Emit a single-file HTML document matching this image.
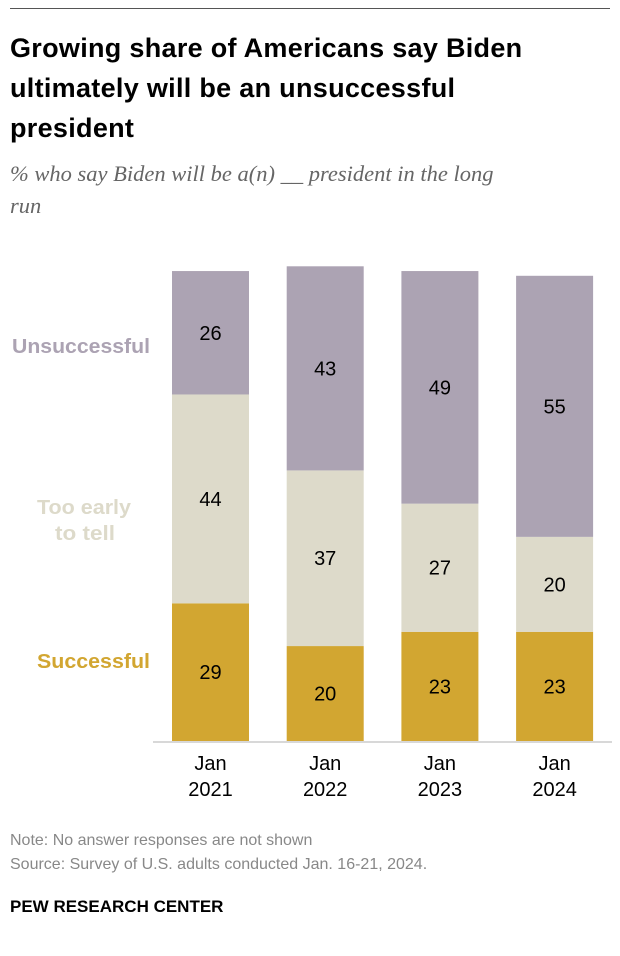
<!DOCTYPE html>
<html><head><meta charset="utf-8"><style>
body{margin:0;background:#fff;width:620px;height:956px;position:relative;font-family:"Liberation Sans",sans-serif;overflow:hidden}
.t{position:absolute;left:10px;top:28px;font-size:27px;font-weight:bold;line-height:40px;color:#000;width:610px;letter-spacing:0.3px}
.s{position:absolute;left:10px;top:158px;font-size:22.5px;font-style:italic;font-family:"Liberation Serif",serif;color:#666;line-height:32px;width:600px}
.n{position:absolute;left:10px;font-size:16px;color:#888}
</style></head><body>
<div style="position:absolute;left:10px;right:10px;top:8px;border-top:1px solid #555"></div>
<div class="t">Growing share of Americans say Biden<br>ultimately will be an unsuccessful<br>president</div>
<div class="s">% who say Biden will be a(n) __ president in the long<br>run</div>
<svg id="c" width="620" height="956" style="position:absolute;left:0;top:0"></svg>
<div class="n" style="top:832px">Note: No answer responses are not shown</div>
<div class="n" style="top:856px">Source: Survey of U.S. adults conducted Jan. 16-21, 2024.</div>
<div style="position:absolute;left:10px;top:897px;font-size:17px;font-weight:bold;color:#000">PEW RESEARCH CENTER</div>
<script>
const years=["2021","2022","2023","2024"];
const successful=[29,20,23,23];
const tooEarly=[44,37,27,20];
const unsuccessful=[26,43,49,55];
const series=[["successful",successful,"#D2A631"],["too-early",tooEarly,"#DDDACA"],["unsuccessful",unsuccessful,"#ACA3B3"]];
const NS="http://www.w3.org/2000/svg",svg=document.getElementById('c');
const base=741,k=4.747;
const y=v=>base-v*k;
const xs=i=>172+i*114.7;
const bw=77;
function mk(t,a){const e=document.createElementNS(NS,t);for(const q in a)e.setAttribute(q,a[q]);svg.appendChild(e);return e;}
years.forEach((yr,i)=>{
  let cum=0;
  series.forEach(([nm,arr,col])=>{
    const v=arr[i];
    const r=mk('rect',{x:xs(i),y:y(cum+v),width:bw,height:v*k,fill:col});
    
    
    const t=mk('text',{x:xs(i)+bw/2,y:y(cum+v/2)+7,'text-anchor':'middle','font-size':'20','fill':'#000','font-family':'Liberation Sans, sans-serif'});
    t.textContent=v;
    
    
    cum+=v;
  });
  const a=mk('text',{x:xs(i)+bw/2,y:770,'text-anchor':'middle','font-size':'20','font-family':'Liberation Sans, sans-serif'});a.textContent="Jan";
  
  
  const b=mk('text',{x:xs(i)+bw/2,y:796,'text-anchor':'middle','font-size':'20','font-family':'Liberation Sans, sans-serif'});b.textContent=yr;
  
  
});
const ax=mk('line',{x1:153,x2:612,y1:base+1,y2:base+1,stroke:'#ccc','stroke-width':1.5});


[["Unsuccessful",12,353,138,"#ACA3B3"],["Too early",37,514,94,"#DDDACA"],["to tell",55,540,60,"#DDDACA"],["Successful",37,668,113,"#D2A631"]].forEach(([s,xx,yy,w,c])=>{
  const t=mk('text',{x:xx,y:yy,textLength:w,lengthAdjust:'spacingAndGlyphs','font-size':'20','font-weight':'bold',fill:c,'font-family':'Liberation Sans, sans-serif'});t.textContent=s;
  
  
});
</script>
</body></html>
